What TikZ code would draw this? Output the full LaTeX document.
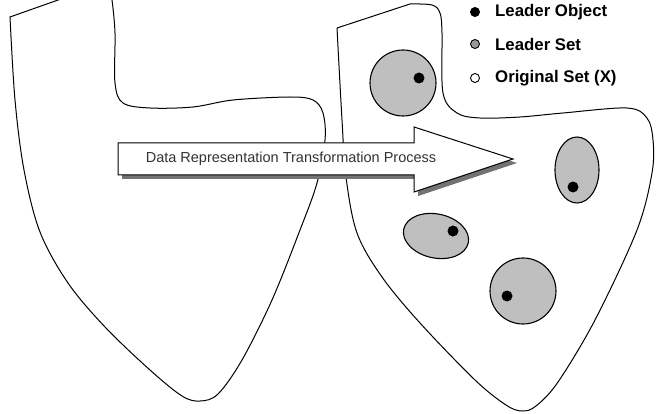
\documentclass[tikz,border=0pt]{standalone}
\usepackage{fontspec}
\setmainfont{Liberation Sans}
\begin{document}
\begin{tikzpicture}[x=1pt,y=-1pt,
  outline/.style={draw=black, line width=1pt},
  setfill/.style={fill=black!25, draw=black, line width=1.1pt},
  leaderdot/.style={fill=black},
  legtext/.style={anchor=west, inner sep=0pt, font=\fontsize{16.8}{19}\selectfont\bfseries},
  legdot/.style={circle, draw=black, line width=0.9pt, inner sep=0pt, minimum size=9pt}]
\useasboundingbox (0,0) rectangle (661,414);
\clip (0,0) rectangle (661,414);
% original set (left)
\draw[outline] (75,-6) -- plot[smooth, tension=0.55] coordinates {(10,17) (15,100) (24,170) (40,232) (68,283) (105,327) (150,370) (182,396) (200,401) (218,394) (242,360) (272,300) (300,230) (317,183) (325,140) (323,113) (313,100) (290,97) (233,100) (193,107) (150,108) (123,103) (115,83) (115,33) (112,0) (110,-6)} -- cycle;
% transformed set (right)
\draw[outline] (337,28) -- plot[smooth, tension=0.55] coordinates {(410,4) (432,5) (440,13) (442,33) (443,93) (457,113) (480,118) (520,117) (563,113) (627,108) (647,118) (653,140) (652,173) (637,230) (595,320) (558,382) (536,406) (522,411) (506,405) (475,380) (420,323) (382,277) (357,233) (346,177) (342,120) (337,28)};
% leader sets
\draw[setfill] (403,83) circle [radius=33];
\draw[setfill] (577,170) ellipse [x radius=22, y radius=33];
\draw[setfill, rotate around={-12:(436,236)}] (436,236) ellipse [x radius=33, y radius=22];
\draw[setfill] (523,291) circle [radius=33];
% leader objects
\fill[leaderdot] (419,78) circle [radius=5.5];
\fill[leaderdot] (573,187) circle [radius=5.5];
\fill[leaderdot] (453,231) circle [radius=5.5];
\fill[leaderdot] (507,296) circle [radius=5.5];
% arrow
\fill[black!55] ([shift={(4,4)}]118,143) -- ++(296,0) -- ++(0,-16) -- ++(99,32) -- ++(-99,33) -- ++(0,-17) -- ++(-296,0) -- cycle;
\draw[outline, fill=white] (118,143) -- (414,143) -- (414,127) -- (513,159) -- (414,192) -- (414,175) -- (118,175) -- cycle;
\node[font=\fontsize{14.5}{17}\selectfont, text=black!80, inner sep=0pt] (label) at (291,159) {Data Representation Transformation Process};
% legend
\node[legdot, fill=black] (d1) at (475,12) {};
\node[legdot, fill=black!40] (d2) at (475,44) {};
\node[legdot, fill=white] (d3) at (475,78) {};
\node[legtext] (t1) at (495,12) {Leader Object};
\node[legtext] (t2) at (495,44) {Leader Set};
\node[legtext] (t3) at (495,78) {Original Set (X)};
\end{tikzpicture}
\end{document}
